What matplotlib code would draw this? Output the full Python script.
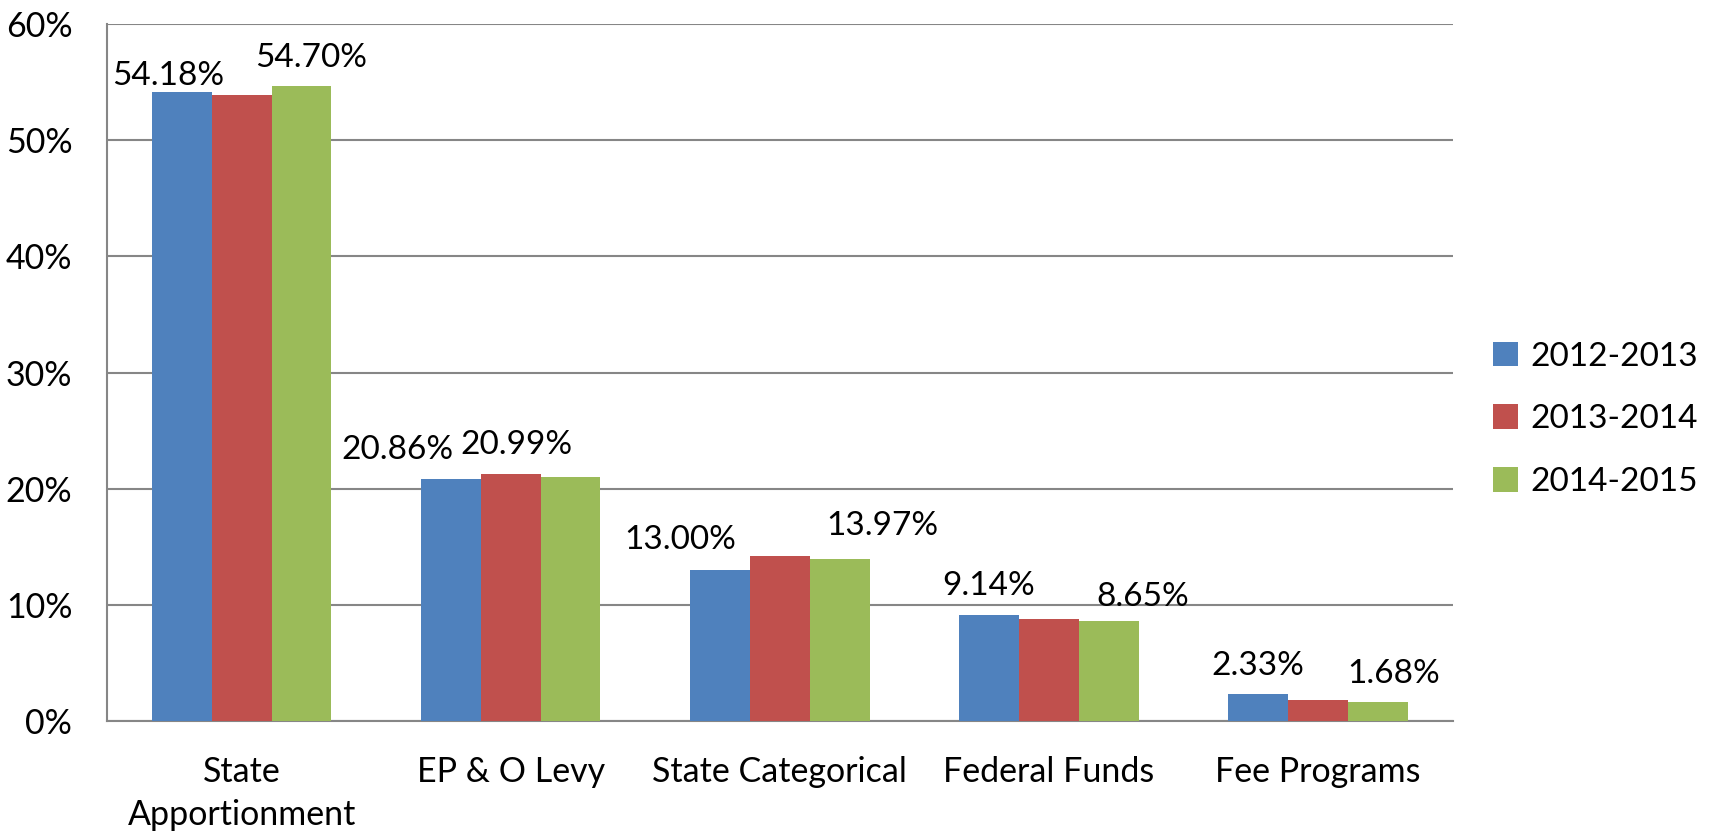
import numpy as np
import matplotlib.pyplot as plt
from matplotlib.ticker import PercentFormatter

categories = ["State\nApportionment", "EP & O Levy", "State Categorical", "Federal Funds", "Fee Programs"]
series_names = ["2012-2013", "2013-2014", "2014-2015"]
v_2012 = [54.18, 20.86, 13.00, 9.14, 2.33]
v_2013 = [53.94, 21.29, 14.18, 8.76, 1.80]
v_2014 = [54.70, 20.99, 13.97, 8.65, 1.68]
colors = ["#4F81BD", "#C0504D", "#9BBB59"]

# label nudges (pixels) - labels in the source were dragged by hand
nudge_2012 = [(-14, 7), (-53, 20), (-40, 21), (0, 20), (0, 19)]
nudge_2014 = [(10, 19), (-54, 23), (43, 24), (34, 15), (16, 19)]

plt.rcParams['font.family'] = ['Lato', 'DejaVu Sans']
fs = 24.5

fig = plt.figure(figsize=(17.13, 8.35), dpi=100)
ax = fig.add_axes([0.0625, 0.1365, 0.7855, 0.8345])

x = np.arange(len(categories))
w = 0.667 / 3
bars = []
for i, vals in enumerate([v_2012, v_2013, v_2014]):
    b = ax.bar(x + (i - 1) * w, vals, w, color=colors[i], label=series_names[i], zorder=3)
    bars.append(b)

for rects, vals, nudges in [(bars[0], v_2012, nudge_2012), (bars[2], v_2014, nudge_2014)]:
    for r, v, (dx, dy) in zip(rects, vals, nudges):
        ax.annotate(f"{v:.2f}%", (r.get_x() + r.get_width() / 2, v),
                    xytext=(dx, dy), textcoords='offset pixels',
                    ha='center', va='baseline', fontsize=24)

ax.set_xlim(-0.5, len(categories) - 0.5)
ax.set_ylim(0, 60)
ax.set_yticks(np.arange(0, 61, 10))
ax.yaxis.set_major_formatter(PercentFormatter(decimals=0))
ax.set_xticks(x)
ax.set_xticklabels(categories, fontsize=fs, linespacing=1.45)
ax.tick_params(axis='y', length=0, pad=25, labelsize=fs)
ax.tick_params(axis='x', length=0, pad=25)
ax.grid(axis='y', color='#868686', linewidth=1.5, zorder=0)
for s in ['top', 'right']:
    ax.spines[s].set_visible(False)
ax.spines['left'].set_color('#868686')
ax.spines['bottom'].set_color('#868686')
ax.spines['left'].set_linewidth(1.5)
ax.spines['bottom'].set_linewidth(1.5)

ax.legend(loc='center left', bbox_to_anchor=(1.008, 0.433), frameon=False, fontsize=24,
          handlelength=0.75, handleheight=0.75, handletextpad=0.35, labelspacing=0.98)

fig.savefig("out.png", dpi=100)
